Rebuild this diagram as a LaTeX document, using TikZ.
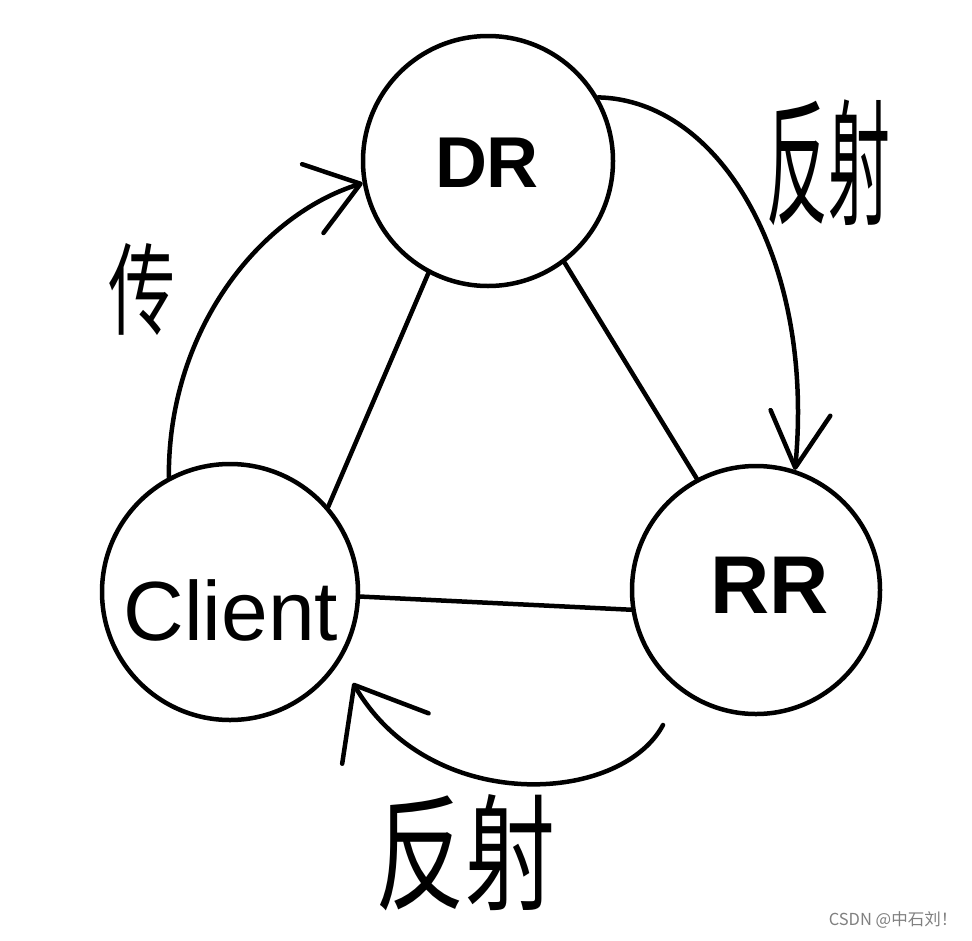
\documentclass[tikz,border=0pt]{standalone}
\usepackage{fontspec}
\usepackage{graphicx}
\setmainfont{Liberation Sans}
\newfontfamily\cjkfont{Noto Sans CJK SC}
\usetikzlibrary{arrows.meta}
\begin{document}
\begin{tikzpicture}[x=1pt,y=1pt,
  ring/.style={circle,draw,line width=4.5pt,inner sep=0pt},
  link/.style={line width=4.5pt,line cap=round},
  curvearrow/.style={line width=4.5pt,line cap=round},
  lbl/.style={inner sep=0pt,anchor=center},
  hz/.style={lbl,font=\cjkfont\fontsize{#1}{#1}\selectfont}]
\useasboundingbox (0,0) rectangle (972,-940);
\fill[white] (0,0) rectangle (972,-940);

% circles
\node[ring,minimum size=250pt] (dr) at (488,-161) {};
\node[ring,minimum size=256pt] (client) at (230,-592) {};
\node[ring,minimum size=248pt] (rr) at (756,-590) {};

% texts in circles
\node[lbl,font=\bfseries\fontsize{72}{72}\selectfont] (drtext) at (487,-163) {DR};
\node[lbl,font=\bfseries\fontsize{82}{82}\selectfont] (rrtext) at (770,-585) {RR};
\node[lbl,font=\fontsize{84}{84}\selectfont] (clienttext) at (231,-610) {Client};

% straight links
\draw[link] (dr.242) -- (client.41);
\draw[link] (dr.307) -- (rr.118);
\draw[link] (client.-2) -- (rr.189);

% free ends of the bottom arc
\coordinate (rrb) at (663,-725);
\coordinate (clb) at (353,-683);

% curved arrows
\draw[curvearrow,-{Straight Barb[length=50pt,width=72pt,line width=4.5pt,round]}]
  (client.118) .. controls (168,-330) and (260,-215) .. (dr.190);
\draw[curvearrow,-{Straight Barb[length=55pt,width=60pt,line width=4.5pt,round]}]
  (dr.30) .. controls (720,-100) and (815,-260) .. (rr.72);
\draw[curvearrow,-{Straight Barb[length=62pt,width=100pt,line width=4.5pt,round]}]
  (rrb) .. controls (620,-805) and (430,-815) .. (clb);

% labels
\node[hz=62] (lblright) at (828,-163) {\scalebox{1}[2.2]{反射}};
\node[hz=90] (lblbottom) at (465,-853) {\scalebox{1}[1.4]{反射}};
\node[hz=67] (lblleft) at (142,-290) {\scalebox{1}[1.5]{传}};

% watermark
\node[hz=16.5,text=gray] (wm) at (893,-920) {CSDN @中石刘！};
\end{tikzpicture}
\end{document}
